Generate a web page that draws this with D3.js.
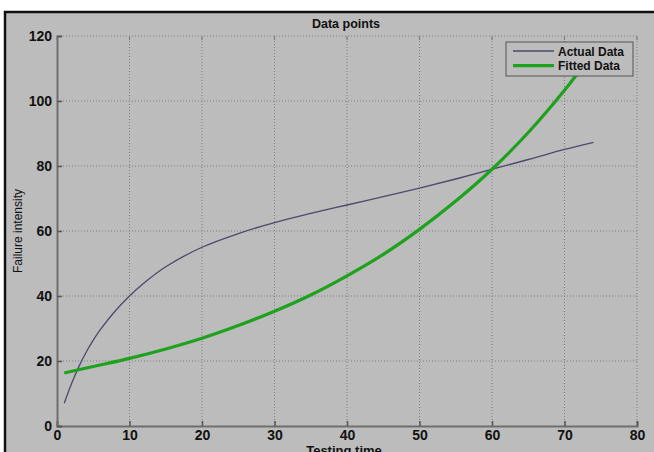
<!DOCTYPE html>
<html>
<head>
<meta charset="utf-8">
<script src="https://cdn.jsdelivr.net/npm/d3@7"></script>
<style>
  body { margin: 0; background: #fff; }
  text { font-family: "Liberation Sans", Arial, sans-serif; }
</style>
</head>
<body>
<div class="canvas"></div>
<script>
const actualX = [1, 2, 3, 4, 5, 6, 8, 10, 12, 15, 20, 25, 30, 35, 40, 45, 50, 55, 60, 65, 70, 74];
const actualY = [7, 13, 18.2, 22.6, 26.4, 29.7, 35.3, 40, 44, 49, 55, 59.2, 62.6, 65.4, 68, 70.6, 73.2, 76, 79, 82, 85.1, 87.3];
const fittedX = [1, 5, 10, 15, 20, 25, 30, 35, 40, 45, 50, 55, 60, 65, 70, 74];
const fittedY = [16.3, 18.3, 20.8, 23.7, 27, 30.9, 35.3, 40.3, 46.2, 52.8, 60.5, 69.2, 79, 90.3, 103.3, 115];
const xTicks = [0, 10, 20, 30, 40, 50, 60, 70, 80];
const yTicks = [0, 20, 40, 60, 80, 100, 120];
const seriesNames = ["Actual Data", "Fitted Data"];

const width = 654;
const height = 452;
const bg = "#bcbcbc";

const svg = d3.select(".canvas")
  .append("svg")
  .attr("width", width)
  .attr("height", height);

// figure frame (cropped at right and bottom)
svg.append("rect")
  .attr("x", 5)
  .attr("y", 12)
  .attr("width", width + 10)
  .attr("height", height + 10)
  .attr("fill", bg)
  .attr("stroke", "#111")
  .attr("stroke-width", 2.5);

const x = d3.scaleLinear().domain([0, 80]).range([57, 637]);
const y = d3.scaleLinear().domain([0, 120]).range([426, 36]);

const graph = svg.append("g");

// dotted grid
graph.selectAll(".vgrid")
  .data(xTicks.slice(1))
  .enter()
  .append("line")
  .attr("x1", d => x(d))
  .attr("x2", d => x(d))
  .attr("y1", y(0))
  .attr("y2", y(120))
  .attr("stroke", "#7d7d7d")
  .attr("stroke-width", 1)
  .attr("stroke-dasharray", "1,2");

graph.selectAll(".hgrid")
  .data(yTicks.slice(1))
  .enter()
  .append("line")
  .attr("x1", x(0))
  .attr("x2", x(80))
  .attr("y1", d => y(d))
  .attr("y2", d => y(d))
  .attr("stroke", "#7d7d7d")
  .attr("stroke-width", 1)
  .attr("stroke-dasharray", "1,2");

// axes
const xAxis = d3.axisBottom(x).tickValues(xTicks).tickSize(-5).tickPadding(4);
const yAxis = d3.axisLeft(y).tickValues(yTicks).tickSize(-5).tickPadding(5);

const gx = graph.append("g")
  .attr("transform", `translate(0, ${y(0)})`)
  .call(xAxis);
const gy = graph.append("g")
  .attr("transform", `translate(${x(0)}, 0)`)
  .call(yAxis);

[gx, gy].forEach(g => {
  g.select(".domain").attr("stroke", "#6e6e6e").attr("stroke-width", 2);
  g.selectAll(".tick line").attr("stroke", "#555").attr("stroke-width", 1.5);
  g.selectAll("text")
    .attr("fill", "#111")
    .style("font-size", "14px")
    .style("font-weight", "bold")
    .style("font-family", "'Liberation Sans', Arial, sans-serif");
});

// top ticks
graph.selectAll(".ttick")
  .data(xTicks)
  .enter()
  .append("line")
  .attr("x1", d => x(d))
  .attr("x2", d => x(d))
  .attr("y1", y(120))
  .attr("y2", y(120) + 4)
  .attr("stroke", "#777");

// lines
const actual = actualX.map((d, i) => ({ x: d, y: actualY[i] }));
const fitted = fittedX.map((d, i) => ({ x: d, y: fittedY[i] }));

const line = d3.line()
  .x(d => x(d.x))
  .y(d => y(d.y))
  .curve(d3.curveCatmullRom);

graph.append("path")
  .datum(actual)
  .attr("d", line)
  .attr("fill", "none")
  .attr("stroke", "#4a4a6c")
  .attr("stroke-width", 1.3);

graph.append("path")
  .datum(fitted)
  .attr("d", line)
  .attr("fill", "none")
  .attr("stroke", "#1ea21e")
  .attr("stroke-width", 3.2);

// title and labels
svg.append("text")
  .attr("x", 346)
  .attr("y", 28)
  .attr("text-anchor", "middle")
  .style("font-size", "12.5px")
  .style("font-weight", "bold")
  .attr("fill", "#111")
  .text("Data points");

svg.append("text")
  .attr("x", 344)
  .attr("y", 455)
  .attr("text-anchor", "middle")
  .style("font-size", "13px")
  .style("font-weight", "bold")
  .attr("fill", "#111")
  .text("Testing time");

svg.append("text")
  .attr("transform", `translate(22, 231) rotate(-90)`)
  .attr("text-anchor", "middle")
  .style("font-size", "12px")
  .attr("fill", "#111")
  .text("Failure intensity");

// legend
const legend = svg.append("g").attr("transform", "translate(506, 42)");
legend.append("rect")
  .attr("width", 127)
  .attr("height", 34)
  .attr("fill", bg)
  .attr("stroke", "#555")
  .attr("stroke-width", 1);

const legendColors = ["#4a4a6c", "#1ea21e"];
const legendWidths = [1.3, 3.2];

const items = legend.selectAll(".item")
  .data(seriesNames)
  .enter()
  .append("g")
  .attr("transform", (d, i) => `translate(0, ${9 + i * 14.7})`);

items.append("line")
  .attr("x1", 7)
  .attr("x2", 48)
  .attr("y1", 0)
  .attr("y2", 0)
  .attr("stroke", (d, i) => legendColors[i])
  .attr("stroke-width", (d, i) => legendWidths[i]);

items.append("text")
  .attr("x", 52)
  .attr("y", 4.5)
  .style("font-size", "12px")
  .style("font-weight", "bold")
  .attr("fill", "#111")
  .text(d => d);
</script>
</body>
</html>
